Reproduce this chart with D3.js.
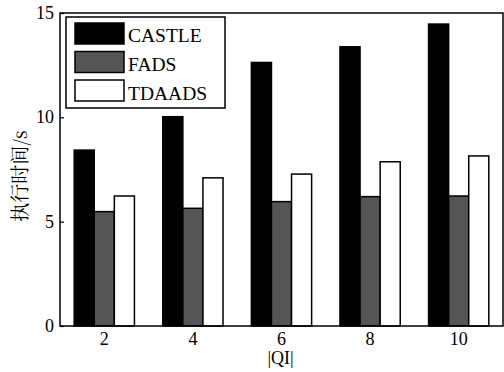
<!DOCTYPE html>
<html>
<head>
<meta charset="utf-8">
<script src="https://cdn.jsdelivr.net/npm/d3@7"></script>
<style>
  body { margin: 0; background: #fff; }
</style>
</head>
<body>
<svg id="chart" width="504" height="372"></svg>
<script>
// data
const qiValues = ["2", "4", "6", "8", "10"];
const seriesNames = ["CASTLE", "FADS", "TDAADS"];
const castleTimes = [8.43, 10.03, 12.63, 13.38, 14.47];
const fadsTimes = [5.48, 5.64, 5.96, 6.2, 6.23];
const tdaadsTimes = [6.23, 7.1, 7.28, 7.87, 8.15];
const yTicks = [0, 5, 10, 15];
const seriesColors = ["#000000", "#555555", "#ffffff"];

const serifFont = "Liberation Serif";

let svg = d3.select("#chart");
let margin = { top: 13, right: 1, bottom: 46, left: 60 };
let innerWidth = 504 - margin.left - margin.right;
let innerHeight = 372 - margin.top - margin.bottom;

let g = svg.append("g")
    .attr("transform", `translate(${margin.left}, ${margin.top})`)
    .style("font-family", serifFont);

let xScale = d3.scaleBand().domain(qiValues).range([0, innerWidth]).padding(0);
let groupW = xScale.bandwidth() * 0.68;
let xSub = d3.scaleBand().domain(seriesNames).range([-groupW / 2, groupW / 2]);
let yScale = d3.scaleLinear().domain([0, 15]).range([innerHeight, 0]);

let allSeries = [castleTimes, fadsTimes, tdaadsTimes];
let rows = [];
qiValues.forEach((q, i) => {
    seriesNames.forEach((s, j) => {
        rows.push({ q: q, s: s, v: allSeries[j][i], c: seriesColors[j] });
    });
});

//Bars
g.selectAll("rect.bar")
    .data(rows)
    .enter()
    .append("rect")
    .attr("class", "bar")
    .attr("x", d => xScale(d.q) + xScale.bandwidth() / 2 + xSub(d.s))
    .attr("y", d => yScale(d.v))
    .attr("width", xSub.bandwidth())
    .attr("height", d => innerHeight - yScale(d.v))
    .attr("fill", d => d.c)
    .attr("stroke", "#000")
    .attr("stroke-width", 1.5);

// frame
g.append("rect")
    .attr("x", 0).attr("y", 0)
    .attr("width", innerWidth).attr("height", innerHeight)
    .attr("fill", "none").attr("stroke", "#000").attr("stroke-width", 1.5);

// Y-axis, ticks inward
let yAxis = g.append("g")
    .call(d3.axisLeft(yScale).tickValues(yTicks).tickSize(-4).tickPadding(6));
yAxis.attr("font-family", serifFont).attr("font-size", 18);
yAxis.select(".domain").remove();
yAxis.selectAll("line").attr("stroke-width", 1.2);
yAxis.selectAll("text").attr("dy", "0.3em");

// X-Axis
let xAxis = g.append("g")
    .attr("transform", `translate(0,${innerHeight})`)
    .call(d3.axisBottom(xScale).tickSize(0).tickPadding(6));
xAxis.attr("font-family", serifFont).attr("font-size", 18);
xAxis.select(".domain").remove();

//Axis-labels
g.append("text")
    .attr("x", innerWidth / 2 - 1)
    .attr("y", innerHeight + 38)
    .attr("text-anchor", "middle")
    .attr("font-family", serifFont)
    .attr("font-size", 18)
    .text("|QI|");

g.append("text")
    .attr("transform", "rotate(-90)")
    .attr("x", -163)
    .attr("y", -33)
    .attr("text-anchor", "middle")
    .attr("font-family", "Noto Serif CJK SC")
    .attr("font-size", 19)
    .text("执行时间/s");

// Legend
let legend = g.append("g").attr("transform", "translate(6, 4)");
legend.append("rect")
    .attr("width", 159).attr("height", 91)
    .attr("fill", "#fff").attr("stroke", "#000").attr("stroke-width", 1.5);
seriesNames.forEach((s, j) => {
    legend.append("rect")
        .attr("x", 9).attr("y", 6 + j * 28.5)
        .attr("width", 49).attr("height", 21)
        .attr("fill", seriesColors[j])
        .attr("stroke", "#000").attr("stroke-width", 1.5);
    legend.append("text")
        .attr("x", 62).attr("y", 25 + j * 29)
        .attr("font-family", serifFont)
        .attr("font-size", 19.5)
        .text(s);
});
</script>
</body>
</html>
